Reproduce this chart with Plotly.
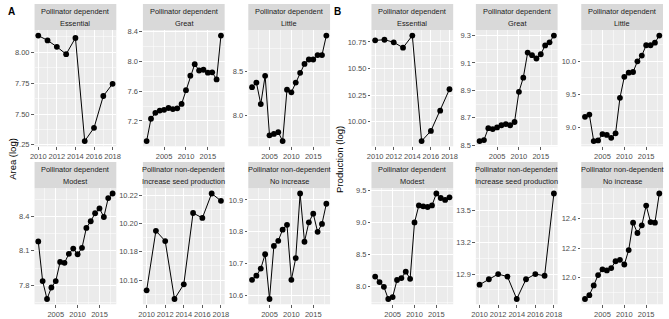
import numpy as np
import plotly.graph_objects as go

W, H = 669, 319

years_short = list(range(2010, 2019))
years_long = list(range(2001, 2019))

strip_top_text = ["Pollinator dependent"] * 4 + ["Pollinator non-dependent"] * 2
strip_bottom_text = ["Essential", "Great", "Little", "Modest",
                     "Increase seed production", "No increase"]

# Panel A : Area (log)
area_essential = [8.136, 8.097, 8.045, 7.985, 8.117, 7.281, 7.388, 7.646, 7.745]
area_great = [6.93, 7.23, 7.31, 7.34, 7.35, 7.375, 7.36, 7.37, 7.43, 7.615, 7.81,
              7.965, 7.88, 7.89, 7.85, 7.855, 7.76, 8.35]
area_little = [8.318, 8.37, 8.127, 8.446, 7.775, 7.79, 7.81, 7.71, 8.29, 8.26, 8.37,
               8.48, 8.58, 8.63, 8.63, 8.68, 8.68, 8.90]
area_modest = [8.182, 7.836, 7.68, 7.78, 7.836, 8.003, 7.995, 8.074, 8.12, 8.07, 8.126,
               8.30, 8.358, 8.428, 8.47, 8.395, 8.56, 8.60]
area_seed = [10.1527, 10.1949, 10.1876, 10.1466, 10.157, 10.2075, 10.204, 10.2213, 10.2161]
area_noinc = [10.65, 10.663, 10.685, 10.73, 10.59, 10.756, 10.772, 10.807, 10.822, 10.65,
              10.718, 10.92, 10.769, 10.83, 10.857, 10.80, 10.825, 10.888]

# Panel B : Production (log)
prod_essential = [10.765, 10.771, 10.747, 10.696, 10.81, 9.82, 9.915, 10.105, 10.306]
prod_great = [8.531, 8.538, 8.625, 8.618, 8.63, 8.646, 8.655, 8.646, 8.67, 8.89, 8.993,
              9.176, 9.157, 9.133, 9.164, 9.228, 9.251, 9.30]
prod_little = [9.161, 9.195, 8.795, 8.805, 8.90, 8.887, 8.843, 8.912, 9.448, 9.766, 9.829,
               9.839, 10.0, 10.088, 10.244, 10.244, 10.283, 10.39]
prod_modest = [8.151, 8.065, 7.99, 7.80, 7.83, 8.097, 8.127, 8.227, 8.116, 8.997, 9.264,
               9.249, 9.239, 9.264, 9.45, 9.38, 9.35, 9.39]
prod_seed = [12.80, 12.851, 12.9, 12.876, 12.665, 12.851, 12.9, 12.884, 13.66]
prod_noinc = [11.854, 11.88, 11.946, 12.016, 12.055, 12.048, 12.064, 12.11, 12.12, 12.088,
              12.186, 12.372, 12.302, 12.354, 12.488, 12.376, 12.372, 12.57]

x_ticks_short = [2010, 2012, 2014, 2016, 2018]
x_ticks_long = [2005, 2010, 2015]

yt_area = [
    ["7.25", "7.50", "7.75", "8.00"],
    ["7.2", "7.6", "8.0", "8.4"],
    ["8.0", "8.5"],
    ["7.8", "8.1", "8.4"],
    ["10.16", "10.18", "10.20", "10.22"],
    ["10.6", "10.7", "10.8", "10.9"],
]
yt_prod = [
    ["10.00", "10.25", "10.50", "10.75"],
    ["8.5", "8.7", "8.9", "9.1", "9.3"],
    ["9.0", "9.5", "10.0"],
    ["8.0", "8.5", "9.0", "9.5"],
    ["12.9", "13.2", "13.5"],
    ["12.0", "12.2", "12.4"],
]

series_A = [area_essential, area_great, area_little, area_modest, area_seed, area_noinc]
series_B = [prod_essential, prod_great, prod_little, prod_modest, prod_seed, prod_noinc]
short_flags = [True, False, False, False, True, False]

# layout geometry (pixels)
cols_A = [(30, 113), (140, 223), (247, 330)]
cols_B = [(372, 455), (478, 561), (585, 668)]
rows = [(28, 147), (190, 309)]
strips = [(1, 28), (163, 190)]

FONT = "Liberation Sans, Arial, sans-serif"
BG = "#EBEBEB"
STRIP = "#D9D9D9"


def fx(px):
    return px / W


def fy(py):
    return 1 - py / H


def expand(lo, hi, f=0.05):
    s = hi - lo
    return [lo - f * s, hi + f * s]


def minor_vals(ticks):
    t = np.array(ticks, dtype=float)
    if len(t) < 2:
        return []
    step = t[1] - t[0]
    mids = list((t[:-1] + t[1:]) / 2)
    return [t[0] - step / 2] + mids + [t[-1] + step / 2]


fig = go.Figure()
layout = {}
shapes = []
annotations = []

n = 0
for panel, (cols, series, yts) in enumerate([(cols_A, series_A, yt_area),
                                              (cols_B, series_B, yt_prod)]):
    for i in range(6):
        n += 1
        r, c = divmod(i, 3)
        x0, x1 = cols[c]
        y0, y1 = rows[r]
        xs = years_short if short_flags[i] else years_long
        ys = series[i]
        xticks = x_ticks_short if short_flags[i] else x_ticks_long
        ytext = yts[i]
        yvals = [float(v) for v in ytext]
        xk = "xaxis" if n == 1 else f"xaxis{n}"
        yk = "yaxis" if n == 1 else f"yaxis{n}"
        xr = "x" if n == 1 else f"x{n}"
        yr = "y" if n == 1 else f"y{n}"
        fig.add_trace(go.Scatter(
            x=xs, y=ys, xaxis=xr, yaxis=yr, mode="lines+markers",
            line=dict(color="black", width=1),
            marker=dict(color="black", size=5.8),
            showlegend=False, hoverinfo="skip", cliponaxis=False))
        common = dict(
            showgrid=True, gridcolor="white", gridwidth=1,
            zeroline=False, showline=False,
            ticks="outside", ticklen=2.5, tickwidth=0.8, tickcolor="#333333",
            tickfont=dict(family=FONT, size=7.5, color="#4D4D4D"),
            tickangle=0, fixedrange=True,
        )
        layout[xk] = dict(
            domain=[fx(x0), fx(x1)], anchor=yr,
            range=expand(min(xs), max(xs)),
            tickmode="array", tickvals=xticks, ticktext=[str(t) for t in xticks],
            minor=dict(tickmode="array", tickvals=minor_vals(xticks),
                       showgrid=True, gridcolor="white", gridwidth=0.5),
            **common)
        layout[yk] = dict(
            domain=[fy(y1), fy(y0)], anchor=xr,
            range=expand(min(ys), max(ys)),
            tickmode="array", tickvals=yvals, ticktext=ytext,
            minor=dict(tickmode="array", tickvals=minor_vals(yvals),
                       showgrid=True, gridcolor="white", gridwidth=0.5),
            **common)
        # strip
        s0, s1 = strips[r]
        shapes.append(dict(type="rect", xref="paper", yref="paper",
                           x0=fx(x0), x1=fx(x1), y0=fy(s1), y1=fy(s0),
                           fillcolor=STRIP, line=dict(width=0), layer="below"))
        xc = fx((x0 + x1) / 2)
        annotations.append(dict(text=strip_top_text[i], xref="paper", yref="paper",
                                x=xc, y=fy(s0 + 7.5), showarrow=False,
                                xanchor="center", yanchor="middle",
                                font=dict(family=FONT, size=7.4, color="#1A1A1A")))
        annotations.append(dict(text=strip_bottom_text[i], xref="paper", yref="paper",
                                x=xc, y=fy(s0 + 20), showarrow=False,
                                xanchor="center", yanchor="middle",
                                font=dict(family=FONT, size=7.4, color="#1A1A1A")))

# panel letters and y titles
annotations.append(dict(text="<b>A</b>", xref="paper", yref="paper", x=fx(1), y=fy(1),
                        xanchor="left", yanchor="top", showarrow=False,
                        font=dict(family=FONT, size=10, color="black")))
annotations.append(dict(text="<b>B</b>", xref="paper", yref="paper", x=fx(332), y=fy(1),
                        xanchor="left", yanchor="top", showarrow=False,
                        font=dict(family=FONT, size=10, color="black")))
annotations.append(dict(text="Area (log)", xref="paper", yref="paper", x=fx(8), y=fy(160),
                        xanchor="center", yanchor="middle", textangle=-90, showarrow=False,
                        font=dict(family=FONT, size=9.5, color="black")))
annotations.append(dict(text="Production (log)", xref="paper", yref="paper", x=fx(340),
                        y=fy(160), xanchor="center", yanchor="middle", textangle=-90,
                        showarrow=False, font=dict(family=FONT, size=9.5, color="black")))

fig.update_layout(
    width=W, height=H, margin=dict(l=0, r=0, t=0, b=0),
    paper_bgcolor="white", plot_bgcolor=BG,
    shapes=shapes, annotations=annotations, showlegend=False,
    **layout)

fig.write_html("out.html", config={"displayModeBar": False, "staticPlot": True},
               post_script="document.body.style.margin='0';document.body.style.overflow='hidden';")
